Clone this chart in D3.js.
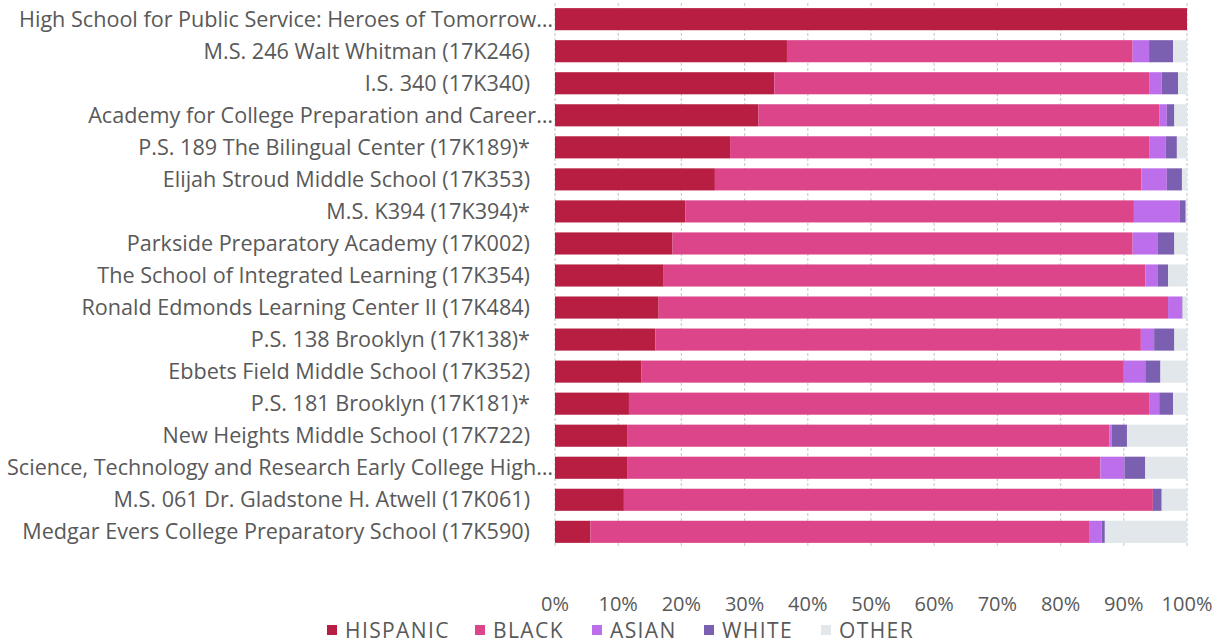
<!DOCTYPE html>
<html>
<head>
<meta charset="utf-8">
<script src="https://cdn.jsdelivr.net/npm/d3@7"></script>
<style>
  body { margin: 0; background: #fff; }
  svg { font-family: "Open Sans", Lato, sans-serif; }
</style>
</head>
<body>
<svg id="chart" width="1221" height="644"></svg>
<script>
const schools = [
  'High School for Public Service: Heroes of Tomorrow…',
  'M.S. 246 Walt Whitman (17K246)',
  'I.S. 340 (17K340)',
  'Academy for College Preparation and Career…',
  'P.S. 189 The Bilingual Center (17K189)*',
  'Elijah Stroud Middle School (17K353)',
  'M.S. K394 (17K394)*',
  'Parkside Preparatory Academy (17K002)',
  'The School of Integrated Learning (17K354)',
  'Ronald Edmonds Learning Center II (17K484)',
  'P.S. 138 Brooklyn (17K138)*',
  'Ebbets Field Middle School (17K352)',
  'P.S. 181 Brooklyn (17K181)*',
  'New Heights Middle School (17K722)',
  'Science, Technology and Research Early College High…',
  'M.S. 061 Dr. Gladstone H. Atwell (17K061)',
  'Medgar Evers College Preparatory School (17K590)'
];

// shares in percent, same order as schools
const hispanic = [100, 36.7, 34.7, 32.2, 27.7, 25.3, 20.6, 18.6, 17.2, 16.4, 15.9, 13.7, 11.7, 11.5, 11.5, 10.9, 5.6];
const black    = [0,   54.7, 59.3, 63.4, 66.3, 67.5, 71.0, 72.8, 76.2, 80.6, 76.8, 76.3, 82.3, 76.2, 74.8, 83.7, 78.9];
const asian    = [0,   2.6,  2.0,  1.2,  2.6,  4.0,  7.2,  4.0,  2.0,  2.2,  2.1,  3.4,  1.6,  0.4,  3.8,  0,    2.0];
const white    = [0,   3.8,  2.6,  1.2,  1.8,  2.4,  1.0,  2.6,  1.6,  0.1,  3.2,  2.4,  2.2,  2.4,  3.3,  1.4,  0.5];
const other    = [0,   2.2,  1.4,  2.0,  1.6,  0.8,  0.2,  2.0,  3.0,  0.7,  2.0,  4.2,  2.2,  9.5,  6.6,  4.0,  13.0];

const groups = ['HISPANIC', 'BLACK', 'ASIAN', 'WHITE', 'OTHER'];
const colors = ['#B71E42', '#DD458A', '#BC6EEB', '#7B5FB1', '#E1E7EA'];
const xTicks = [0, 10, 20, 30, 40, 50, 60, 70, 80, 90, 100];

const table = schools.map((s, i) => ({
  school: s,
  HISPANIC: hispanic[i], BLACK: black[i], ASIAN: asian[i], WHITE: white[i], OTHER: other[i]
}));

const svg = d3.select('#chart');
const margin = { top: 3, right: 34, bottom: 96, left: 555 };
const width = 1221 - margin.left - margin.right;
const height = 644 - margin.top - margin.bottom;

const g = svg.append('g').attr('transform', `translate(${margin.left},${margin.top})`);

const x = d3.scaleLinear().domain([0, 100]).range([0, width]);
const y = d3.scaleBand().domain(schools).range([0, height]).paddingInner(0.31).paddingOuter(0.16);
const color = d3.scaleOrdinal().domain(groups).range(colors);

// gridlines
g.append('g')
  .selectAll('line')
  .data(xTicks)
  .join('line')
  .attr('x1', d => x(d)).attr('x2', d => x(d))
  .attr('y1', 0).attr('y2', height)
  .attr('stroke', '#CFCFCF')
  .attr('stroke-width', 1.2)
  .attr('stroke-dasharray', '3,2');

// stacked bars
const stacked = d3.stack().keys(groups)(table);
g.append('g')
  .selectAll('g')
  .data(stacked)
  .join('g')
  .attr('fill', d => color(d.key))
  .selectAll('rect')
  .data(d => d)
  .join('rect')
  .attr('x', d => x(d[0]))
  .attr('y', d => y(d.data.school))
  .attr('width', d => Math.max(0, x(d[1]) - x(d[0])))
  .attr('height', y.bandwidth());

// category labels
g.append('g')
  .selectAll('text')
  .data(schools)
  .join('text')
  .attr('x', d => d.endsWith('…') ? -2 : -25)
  .attr('y', d => y(d) + y.bandwidth() / 2)
  .attr('dy', '0.35em')
  .attr('text-anchor', 'end')
  .attr('fill', '#595959')
  .style('font-size', '21.6px')
  .text(d => d);

// x axis labels
g.append('g')
  .selectAll('text')
  .data(xTicks)
  .join('text')
  .attr('x', d => x(d))
  .attr('y', height + 63)
  .attr('text-anchor', 'middle')
  .attr('fill', '#595959')
  .style('font-size', '20px')
  .text(d => d + '%');

// legend
const legendX = [327, 475, 592, 704, 821];
const legend = svg.append('g')
  .selectAll('g')
  .data(groups)
  .join('g')
  .attr('transform', (d, i) => `translate(${legendX[i]},630)`);
legend.append('rect')
  .attr('x', 0).attr('y', -5)
  .attr('width', 10).attr('height', 10)
  .attr('fill', d => color(d));
legend.append('text')
  .attr('x', 18)
  .attr('dy', '0.36em')
  .attr('fill', '#595959')
  .style('font-size', '21px')
  .style('letter-spacing', '1.4px')
  .text(d => d);
</script>
</body>
</html>
